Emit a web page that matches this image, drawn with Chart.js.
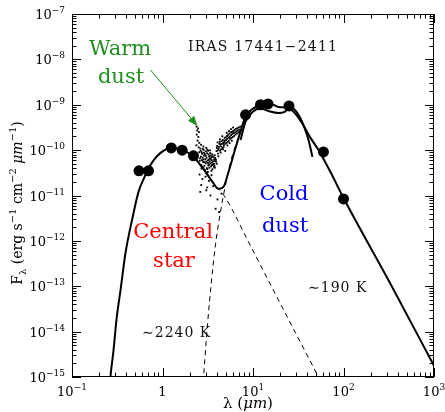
<!DOCTYPE html>
<html>
<head>
<meta charset="utf-8">
<script src="https://cdn.jsdelivr.net/npm/chart.js@4.4.0/dist/chart.umd.min.js"></script>
<style>
  html, body { margin: 0; padding: 0; background: #fff; }
</style>
</head>
<body>
<canvas id="sed" width="445" height="412"></canvas>
<script>
// Photometry (filled circles), lambda in micron, F_lambda in erg/s/cm2/um
const photLam  = [0.55, 0.70, 1.25, 1.65, 2.2, 8.28, 12.1, 14.65, 25, 60, 100];
const photFlux = [3.5e-11, 3.5e-11, 1.12e-10, 1.0e-10, 7.5e-11, 6.0e-10, 1.0e-9, 1.04e-9, 9.4e-10, 9.1e-11, 8.4e-12];

// Total model (star + dust), solid
const modelLam  = [0.255, 0.266, 0.288, 0.310, 0.344, 0.390, 0.466, 0.543, 0.649, 0.775, 0.950, 1.23, 1.66, 2.20, 2.77, 3.57, 4.16, 4.72, 5.36, 6.09, 6.92, 8.26, 9.87, 11.5, 14.8, 19.1, 24.7, 29.5, 35.2, 43.2, 52.9, 71.8, 99.8, 330, 1000];
const modelFlux = [3e-16, 1.0e-15, 3.97e-15, 1.82e-14, 8.3e-14, 5.4e-13, 3.2e-12, 1.2e-11, 2.84e-11, 5.5e-11, 8.7e-11, 1.12e-10, 1.01e-10, 7.1e-11, 4.05e-11, 2.0e-11, 1.40e-11, 1.55e-11, 3.3e-11, 7.8e-11, 1.86e-10, 5.4e-10, 8.1e-10, 9.4e-10, 1.10e-9, 8.95e-10, 8.5e-10, 6.3e-10, 3.8e-10, 1.86e-10, 1.01e-10, 3.3e-11, 8.9e-12, 1.13e-13, 1.77e-15];

// ISO spectrum, long-wavelength part (solid)
const isoLam  = [7.28, 8.26, 9.87, 12.1, 14.8, 19.1, 22.4, 25.9, 31.8, 37.1, 41.0, 45.4];
const isoFlux = [1.68e-10, 4.2e-10, 6.9e-10, 8.3e-10, 7.3e-10, 6.6e-10, 7.0e-10, 8.9e-10, 6.0e-10, 3.1e-10, 1.7e-10, 7.1e-11];

// Central star blackbody ~2240 K (dashed)
const starLam  = [1.23, 1.66, 2.20, 2.84, 3.66, 4.97, 9.38, 20.1, 42.1, 63.2];
const starFlux = [1.12e-10, 1.0e-10, 7.1e-11, 4.05e-11, 1.9e-11, 8.85e-12, 7.8e-13, 4.1e-14, 2.4e-15, 5.0e-16];

// Cold dust blackbody ~190 K, Wien side (dashed)
const dustLam  = [2.70, 2.84, 3.14, 3.47, 3.85, 4.37, 5.10, 5.93, 6.92, 8.26];
const dustFlux = [3.1e-16, 1.0e-15, 1.41e-14, 1.25e-13, 8.2e-13, 4.35e-12, 2.21e-11, 7.8e-11, 1.86e-10, 5.1e-10];

// Noisy short-wavelength ISO spectrum (dots), [lambda, flux]
const specDots = [
  // narrow column at the start of the spectrum
  [2.38, 3.3e-10], [2.47, 3.0e-10], [2.42, 2.7e-10], [2.53, 2.5e-10], [2.39, 2.2e-10], [2.49, 1.95e-10],
  [2.44, 1.62e-10], [2.55, 1.45e-10], [2.37, 1.28e-10], [2.67, 1.31e-10], [2.83, 1.20e-10], [2.51, 1.15e-10],
  // main cloud
  [2.62, 1.08e-10], [2.71, 8.9e-11], [2.85, 1.01e-10], [2.93, 8.2e-11], [3.02, 9.4e-11], [3.11, 8.5e-11],
  [3.19, 9.7e-11], [3.28, 7.3e-11], [3.37, 8.6e-11], [3.46, 7.0e-11], [3.55, 8.1e-11], [3.66, 6.9e-11],
  [3.78, 7.7e-11], [3.89, 6.2e-11], [2.66, 7.2e-11], [2.78, 6.8e-11], [2.88, 7.6e-11], [2.97, 6.3e-11],
  [3.07, 6.8e-11], [3.15, 5.9e-11], [3.24, 6.1e-11], [3.33, 5.6e-11], [3.42, 6.4e-11], [3.51, 5.3e-11],
  [3.61, 5.6e-11], [3.72, 5.0e-11], [3.83, 5.7e-11], [3.97, 5.0e-11], [2.58, 5.8e-11], [2.69, 4.7e-11],
  [2.81, 5.5e-11], [2.90, 4.5e-11], [3.00, 5.1e-11], [3.09, 4.0e-11], [3.21, 4.6e-11], [3.30, 4.1e-11],
  [3.44, 4.4e-11], [3.57, 3.8e-11], [3.69, 4.3e-11], [2.74, 8.3e-11], [3.04, 1.12e-10], [3.35, 9.9e-11],
  [2.55, 9.0e-11], [2.95, 3.6e-11], [3.17, 3.3e-11],
  [2.64, 9.6e-11], [2.79, 1.06e-10], [2.87, 8.8e-11], [3.01, 7.5e-11], [3.13, 1.03e-10], [3.23, 8.0e-11],
  [3.31, 6.6e-11], [3.40, 7.6e-11], [3.49, 6.0e-11], [3.59, 7.3e-11], [3.71, 6.1e-11], [3.81, 6.7e-11],
  [3.92, 5.6e-11], [2.73, 6.0e-11], [2.84, 6.2e-11], [2.92, 5.4e-11], [3.06, 5.6e-11], [3.18, 5.2e-11],
  [3.29, 4.8e-11], [3.38, 5.1e-11], [3.53, 4.7e-11], [3.64, 4.9e-11], [3.75, 4.5e-11], [2.60, 6.6e-11],
  [2.83, 4.1e-11], [3.13, 3.8e-11], [3.47, 3.5e-11], [3.79, 4.1e-11], [2.70, 3.9e-11], [3.02, 3.2e-11],
  // sparse points below
  [2.57, 2.9e-11], [2.76, 2.3e-11], [2.99, 2.6e-11], [3.26, 2.1e-11], [3.48, 2.8e-11], [2.68, 1.7e-11],
  [3.12, 1.5e-11], [2.61, 1.2e-11], [3.39, 1.0e-11], [3.05, 1.3e-11], [3.63, 1.6e-11], [3.86, 5.1e-12],
  [4.22, 4.3e-12], [4.05, 8.2e-12], [4.48, 1.1e-11],
  // rising cloud towards the dust peak
  [3.95, 9.5e-11], [4.02, 1.24e-10], [4.10, 8.4e-11], [4.17, 1.06e-10], [4.26, 1.37e-10], [4.34, 9.7e-11],
  [4.43, 1.21e-10], [4.50, 1.58e-10], [4.60, 1.12e-10], [4.68, 1.43e-10], [4.77, 1.29e-10], [4.86, 1.86e-10],
  [4.95, 1.38e-10], [5.05, 1.66e-10], [5.16, 2.05e-10], [5.26, 1.52e-10], [5.37, 1.88e-10], [5.49, 2.31e-10],
  [5.60, 1.77e-10], [5.73, 2.14e-10], [5.85, 2.52e-10], [5.98, 1.95e-10], [6.11, 2.38e-10], [6.25, 2.80e-10],
  [6.40, 2.20e-10], [6.56, 2.61e-10], [6.72, 3.05e-10], [6.90, 2.45e-10], [7.08, 2.82e-10], [7.27, 3.3e-10],
  [4.06, 1.48e-10], [4.31, 1.72e-10], [4.58, 2.02e-10], [4.82, 1.60e-10], [5.12, 2.41e-10], [5.43, 2.62e-10],
  [5.71, 2.90e-10], [6.03, 3.15e-10], [4.14, 7.3e-11], [4.39, 8.8e-11], [4.66, 1.04e-10], [4.93, 9.6e-11],
  [5.21, 1.27e-10], [5.52, 1.43e-10], [5.83, 1.61e-10],
  [3.99, 1.12e-10], [4.08, 9.9e-11], [4.21, 1.18e-10], [4.29, 1.52e-10], [4.37, 1.33e-10], [4.47, 1.05e-10],
  [4.55, 1.37e-10], [4.63, 1.68e-10], [4.73, 1.17e-10], [4.80, 1.48e-10], [4.90, 1.63e-10], [5.00, 1.92e-10],
  [5.09, 1.44e-10], [5.19, 1.78e-10], [5.31, 2.18e-10], [5.40, 1.61e-10], [5.54, 1.98e-10], [5.66, 2.46e-10],
  [5.78, 1.86e-10], [5.92, 2.27e-10], [6.06, 2.65e-10], [6.19, 2.05e-10], [6.33, 2.47e-10], [6.48, 2.95e-10],
  [6.64, 2.33e-10], [6.81, 2.71e-10], [6.99, 3.18e-10], [7.17, 2.55e-10]
];

// Axis ticks
const xTickValues = [0.1, 1, 10, 100, 1000];
const xTickLabels = [['10', '\u22121'], ['1', ''], ['10', '1'], ['10', '2'], ['10', '3']];
const yTickValues = [1e-7, 1e-8, 1e-9, 1e-10, 1e-11, 1e-12, 1e-13, 1e-14, 1e-15];
const yTickLabels = ['\u22127', '\u22128', '\u22129', '\u221210', '\u221211', '\u221212', '\u221213', '\u221214', '\u221215'];
const minorSteps = [2, 3, 4, 5, 6, 7, 8, 9];

const pairs = (xs, ys) => xs.map((v, i) => ({x: v, y: ys[i]}));

const SERIF = '"DejaVu Serif", serif';
const GREEN = '#1f8f1f';

function drawRuns(ctx, runs, x, y, align) {
  let w = 0;
  runs.forEach(r => { ctx.font = r.font; w += ctx.measureText(r.t).width; });
  let cx = align === 'right' ? x - w : align === 'center' ? x - w / 2 : x;
  ctx.textAlign = 'left';
  runs.forEach(r => {
    ctx.font = r.font;
    ctx.fillText(r.t, cx, y + (r.dy || 0));
    cx += ctx.measureText(r.t).width;
  });
}

function drawText(ctx, txt, x, y, font, color, align, spacing) {
  ctx.font = font;
  ctx.fillStyle = color;
  ctx.letterSpacing = spacing || '0px';
  ctx.textAlign = align || 'left';
  ctx.fillText(txt, x, y);
  ctx.letterSpacing = '0px';
}

const decor = {
  id: 'decor',
  afterDraw(chart) {
    const {ctx, chartArea: a, scales: {x, y}} = chart;
    ctx.save();
    ctx.setLineDash([]);
    ctx.strokeStyle = '#000';
    ctx.lineWidth = 1;
    ctx.strokeRect(a.left + 0.5, a.top + 0.5, a.right - a.left - 1, a.bottom - a.top - 1);

    // inward ticks on all four sides
    ctx.beginPath();
    xTickValues.forEach((v, i) => {
      const steps = i < xTickValues.length - 1 ? [1].concat(minorSteps) : [1];
      steps.forEach(m => {
        const px = Math.round(x.getPixelForValue(v * m)) + 0.5;
        const len = m === 1 ? 9 : 4.5;
        ctx.moveTo(px, a.bottom); ctx.lineTo(px, a.bottom - len);
        ctx.moveTo(px, a.top); ctx.lineTo(px, a.top + len);
      });
    });
    yTickValues.forEach((v, i) => {
      const steps = i > 0 ? [1].concat(minorSteps) : [1];
      steps.forEach(m => {
        const py = Math.round(y.getPixelForValue(v * m)) + 0.5;
        const len = m === 1 ? 9 : 4.5;
        ctx.moveTo(a.left, py); ctx.lineTo(a.left + len, py);
        ctx.moveTo(a.right, py); ctx.lineTo(a.right - len, py);
      });
    });
    ctx.stroke();

    // tick labels
    ctx.fillStyle = '#000';
    const big = '13px ' + SERIF, sup = '9px ' + SERIF;
    xTickValues.forEach((v, i) => {
      const [b, e] = xTickLabels[i];
      const runs = [{t: b, font: big}];
      if (e) runs.push({t: e, font: sup, dy: -6});
      drawRuns(ctx, runs, x.getPixelForValue(v), a.bottom + 19, 'center');
    });
    yTickValues.forEach((v, i) => {
      drawRuns(ctx, [{t: '10', font: big}, {t: yTickLabels[i], font: sup, dy: -6}],
        a.left - 7, y.getPixelForValue(v) + 5, 'right');
    });

    // axis titles
    drawRuns(ctx, [{t: '\u03bb (', font: '15px ' + SERIF}, {t: '\u03bcm', font: 'italic 15px ' + SERIF},
      {t: ')', font: '15px ' + SERIF}], 248, 408, 'center');
    ctx.save();
    ctx.translate(22, 203);
    ctx.rotate(-Math.PI / 2);
    const t12 = '14px ' + SERIF, t8 = '10px ' + SERIF;
    drawRuns(ctx, [
      {t: 'F', font: t12}, {t: '\u03bb', font: t8, dy: 4},
      {t: ' (erg s', font: t12}, {t: '\u22121', font: t8, dy: -6},
      {t: ' cm', font: t12}, {t: '\u22122', font: t8, dy: -6},
      {t: ' ', font: t12}, {t: '\u03bcm', font: 'italic 14px ' + SERIF}, {t: '\u22121', font: t8, dy: -6},
      {t: ')', font: t12}
    ], 0, 0, 'center');
    ctx.restore();

    // annotations
    drawText(ctx, 'IRAS 17441\u22122411', 188, 51, '14px ' + SERIF, '#111', 'left', '1.2px');
    drawText(ctx, 'Warm', 120, 55, '21px ' + SERIF, GREEN, 'center');
    drawText(ctx, 'dust', 121, 83, '21px ' + SERIF, GREEN, 'center');
    drawText(ctx, 'Central', 173, 238, '21px ' + SERIF, '#ff0000', 'center');
    drawText(ctx, 'star', 174, 267, '21px ' + SERIF, '#ff0000', 'center');
    drawText(ctx, 'Cold', 284, 200, '21px ' + SERIF, '#0000ff', 'center');
    drawText(ctx, 'dust', 285, 232, '21px ' + SERIF, '#0000ff', 'center');
    drawText(ctx, '\u223c2240 K', 142, 337, '14px ' + SERIF, '#111', 'left', '1px');
    drawText(ctx, '\u223c190 K', 308, 292, '14px ' + SERIF, '#111', 'left', '1px');

    // arrow from "Warm dust" to the noisy spectrum
    const x0 = x.getPixelForValue(0.737), y0 = y.getPixelForValue(5.85e-9);
    const x1 = x.getPixelForValue(2.436), y1 = y.getPixelForValue(3.41e-10);
    const ang = Math.atan2(y1 - y0, x1 - x0);
    ctx.strokeStyle = GREEN;
    ctx.fillStyle = GREEN;
    ctx.lineWidth = 1;
    ctx.beginPath();
    ctx.moveTo(x0, y0);
    ctx.lineTo(x1 - 6 * Math.cos(ang), y1 - 6 * Math.sin(ang));
    ctx.stroke();
    ctx.beginPath();
    ctx.moveTo(x1, y1);
    ctx.lineTo(x1 - 10 * Math.cos(ang) + 4 * Math.sin(ang), y1 - 10 * Math.sin(ang) - 4 * Math.cos(ang));
    ctx.lineTo(x1 - 10 * Math.cos(ang) - 4 * Math.sin(ang), y1 - 10 * Math.sin(ang) + 4 * Math.cos(ang));
    ctx.closePath();
    ctx.fill();
    ctx.restore();
  }
};

const lineDefaults = {showLine: true, pointRadius: 0, borderColor: '#000', fill: false,
  cubicInterpolationMode: 'monotone'};

new Chart(document.getElementById('sed'), {
  type: 'scatter',
  data: {
    datasets: [
      {label: 'spectrum dots', data: specDots.map(p => ({x: p[0], y: p[1]})), showLine: false,
        pointStyle: 'rect', pointRadius: 1.3, backgroundColor: '#000', borderColor: '#000',
        pointBorderWidth: 0, borderWidth: 1},
      Object.assign({label: 'star BB', data: pairs(starLam, starFlux), borderWidth: 1, borderDash: [5, 4]}, lineDefaults),
      Object.assign({label: 'dust BB', data: pairs(dustLam, dustFlux), borderWidth: 1, borderDash: [5, 4]}, lineDefaults),
      Object.assign({label: 'ISO', data: pairs(isoLam, isoFlux), borderWidth: 2}, lineDefaults),
      Object.assign({label: 'model', data: pairs(modelLam, modelFlux), borderWidth: 2}, lineDefaults),
      {label: 'photometry', data: pairs(photLam, photFlux), showLine: false, pointRadius: 5.5,
        backgroundColor: '#000', borderColor: '#000', pointBorderWidth: 0, borderWidth: 1}
    ]
  },
  options: {
    responsive: false,
    animation: false,
    devicePixelRatio: 1,
    layout: {padding: {left: 72, right: 11, top: 14, bottom: 35}},
    plugins: {legend: {display: false}, tooltip: {enabled: false}},
    scales: {
      x: {type: 'logarithmic', min: 0.1, max: 1000, display: false},
      y: {type: 'logarithmic', min: 1e-15, max: 1e-7, display: false}
    }
  },
  plugins: [decor]
});
</script>
</body>
</html>
